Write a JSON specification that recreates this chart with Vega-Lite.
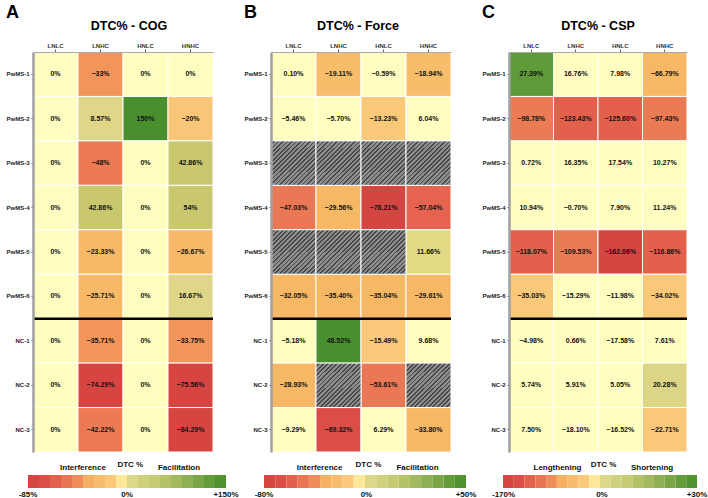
{
  "$schema": "https://vega.github.io/schema/vega-lite/v6.json",
  "background": "white",
  "padding": {"left": 5, "top": 3, "right": 0, "bottom": 0},
  "spacing": 4,
  "resolve": {"scale": {"x": "independent", "y": "independent", "color": "independent"}},
  "config": {
    "font": "Liberation Sans",
    "view": {"stroke": null},
    "title": {"font": "Liberation Sans", "color": "#000"},
    "axisTop": {"labelFontSize": 6, "labelFontWeight": "bold", "labelColor": "#333", "tickSize": 3, "tickColor": "#666", "domainColor": "#aaa", "domainWidth": 1, "labelPadding": 1, "labelAngle": 0},
    "axisLeft": {"labelFontSize": 6, "labelFontWeight": "bold", "labelColor": "#222", "tickSize": 2, "tickColor": "#555", "domainColor": "#a0a0a0", "domainWidth": 2.5, "labelPadding": 2, "minExtent": 26, "maxExtent": 26}
  },
  "datasets": {
    "cog": [
      {"row": "PwMS-1", "col": "LNLC", "v": 0}, {"row": "PwMS-1", "col": "LNHC", "v": -33}, {"row": "PwMS-1", "col": "HNLC", "v": 0}, {"row": "PwMS-1", "col": "HNHC", "v": 0},
      {"row": "PwMS-2", "col": "LNLC", "v": 0}, {"row": "PwMS-2", "col": "LNHC", "v": 8.57}, {"row": "PwMS-2", "col": "HNLC", "v": 150}, {"row": "PwMS-2", "col": "HNHC", "v": -20},
      {"row": "PwMS-3", "col": "LNLC", "v": 0}, {"row": "PwMS-3", "col": "LNHC", "v": -48}, {"row": "PwMS-3", "col": "HNLC", "v": 0}, {"row": "PwMS-3", "col": "HNHC", "v": 42.86},
      {"row": "PwMS-4", "col": "LNLC", "v": 0}, {"row": "PwMS-4", "col": "LNHC", "v": 42.86}, {"row": "PwMS-4", "col": "HNLC", "v": 0}, {"row": "PwMS-4", "col": "HNHC", "v": 54},
      {"row": "PwMS-5", "col": "LNLC", "v": 0}, {"row": "PwMS-5", "col": "LNHC", "v": -23.33}, {"row": "PwMS-5", "col": "HNLC", "v": 0}, {"row": "PwMS-5", "col": "HNHC", "v": -26.67},
      {"row": "PwMS-6", "col": "LNLC", "v": 0}, {"row": "PwMS-6", "col": "LNHC", "v": -25.71}, {"row": "PwMS-6", "col": "HNLC", "v": 0}, {"row": "PwMS-6", "col": "HNHC", "v": 16.67},
      {"row": "NC-1", "col": "LNLC", "v": 0}, {"row": "NC-1", "col": "LNHC", "v": -35.71}, {"row": "NC-1", "col": "HNLC", "v": 0}, {"row": "NC-1", "col": "HNHC", "v": -33.75},
      {"row": "NC-2", "col": "LNLC", "v": 0}, {"row": "NC-2", "col": "LNHC", "v": -74.29}, {"row": "NC-2", "col": "HNLC", "v": 0}, {"row": "NC-2", "col": "HNHC", "v": -75.56},
      {"row": "NC-3", "col": "LNLC", "v": 0}, {"row": "NC-3", "col": "LNHC", "v": -42.22}, {"row": "NC-3", "col": "HNLC", "v": 0}, {"row": "NC-3", "col": "HNHC", "v": -84.29}
    ],
    "force": [
      {"row": "PwMS-1", "col": "LNLC", "v": 0.10}, {"row": "PwMS-1", "col": "LNHC", "v": -19.11}, {"row": "PwMS-1", "col": "HNLC", "v": -0.59}, {"row": "PwMS-1", "col": "HNHC", "v": -18.94},
      {"row": "PwMS-2", "col": "LNLC", "v": -5.46}, {"row": "PwMS-2", "col": "LNHC", "v": -5.70}, {"row": "PwMS-2", "col": "HNLC", "v": -13.23}, {"row": "PwMS-2", "col": "HNHC", "v": 6.04},
      {"row": "PwMS-3", "col": "LNLC", "v": null}, {"row": "PwMS-3", "col": "LNHC", "v": null}, {"row": "PwMS-3", "col": "HNLC", "v": null}, {"row": "PwMS-3", "col": "HNHC", "v": null},
      {"row": "PwMS-4", "col": "LNLC", "v": -47.03}, {"row": "PwMS-4", "col": "LNHC", "v": -29.56}, {"row": "PwMS-4", "col": "HNLC", "v": -78.21}, {"row": "PwMS-4", "col": "HNHC", "v": -57.04},
      {"row": "PwMS-5", "col": "LNLC", "v": null}, {"row": "PwMS-5", "col": "LNHC", "v": null}, {"row": "PwMS-5", "col": "HNLC", "v": null}, {"row": "PwMS-5", "col": "HNHC", "v": 11.66},
      {"row": "PwMS-6", "col": "LNLC", "v": -32.05}, {"row": "PwMS-6", "col": "LNHC", "v": -35.40}, {"row": "PwMS-6", "col": "HNLC", "v": -35.04}, {"row": "PwMS-6", "col": "HNHC", "v": -29.61},
      {"row": "NC-1", "col": "LNLC", "v": -5.18}, {"row": "NC-1", "col": "LNHC", "v": 48.52}, {"row": "NC-1", "col": "HNLC", "v": -15.49}, {"row": "NC-1", "col": "HNHC", "v": 9.68},
      {"row": "NC-2", "col": "LNLC", "v": -28.93}, {"row": "NC-2", "col": "LNHC", "v": null}, {"row": "NC-2", "col": "HNLC", "v": -53.61}, {"row": "NC-2", "col": "HNHC", "v": null},
      {"row": "NC-3", "col": "LNLC", "v": -9.29}, {"row": "NC-3", "col": "LNHC", "v": -69.32}, {"row": "NC-3", "col": "HNLC", "v": 6.29}, {"row": "NC-3", "col": "HNHC", "v": -33.80}
    ],
    "csp": [
      {"row": "PwMS-1", "col": "LNLC", "v": 27.39}, {"row": "PwMS-1", "col": "LNHC", "v": 16.76}, {"row": "PwMS-1", "col": "HNLC", "v": 7.98}, {"row": "PwMS-1", "col": "HNHC", "v": -66.79},
      {"row": "PwMS-2", "col": "LNLC", "v": -98.78}, {"row": "PwMS-2", "col": "LNHC", "v": -123.43}, {"row": "PwMS-2", "col": "HNLC", "v": -125.60}, {"row": "PwMS-2", "col": "HNHC", "v": -97.43},
      {"row": "PwMS-3", "col": "LNLC", "v": 0.72}, {"row": "PwMS-3", "col": "LNHC", "v": 16.35}, {"row": "PwMS-3", "col": "HNLC", "v": 17.54}, {"row": "PwMS-3", "col": "HNHC", "v": 10.27},
      {"row": "PwMS-4", "col": "LNLC", "v": 10.94}, {"row": "PwMS-4", "col": "LNHC", "v": -0.70}, {"row": "PwMS-4", "col": "HNLC", "v": 7.90}, {"row": "PwMS-4", "col": "HNHC", "v": 11.24},
      {"row": "PwMS-5", "col": "LNLC", "v": -118.07}, {"row": "PwMS-5", "col": "LNHC", "v": -109.53}, {"row": "PwMS-5", "col": "HNLC", "v": -162.06}, {"row": "PwMS-5", "col": "HNHC", "v": -116.86},
      {"row": "PwMS-6", "col": "LNLC", "v": -35.03}, {"row": "PwMS-6", "col": "LNHC", "v": -15.29}, {"row": "PwMS-6", "col": "HNLC", "v": -11.98}, {"row": "PwMS-6", "col": "HNHC", "v": -34.02},
      {"row": "NC-1", "col": "LNLC", "v": -4.98}, {"row": "NC-1", "col": "LNHC", "v": 0.66}, {"row": "NC-1", "col": "HNLC", "v": -17.58}, {"row": "NC-1", "col": "HNHC", "v": 7.61},
      {"row": "NC-2", "col": "LNLC", "v": 5.74}, {"row": "NC-2", "col": "LNHC", "v": 5.91}, {"row": "NC-2", "col": "HNLC", "v": 5.05}, {"row": "NC-2", "col": "HNHC", "v": 20.28},
      {"row": "NC-3", "col": "LNLC", "v": 7.50}, {"row": "NC-3", "col": "LNHC", "v": -18.10}, {"row": "NC-3", "col": "HNLC", "v": -16.52}, {"row": "NC-3", "col": "HNHC", "v": -22.71}
    ],
    "legA": [
      {"k": 0, "lo": -85, "hi": -75.56}, {"k": 1, "lo": -75.56, "hi": -66.11}, {"k": 2, "lo": -66.11, "hi": -56.67}, {"k": 3, "lo": -56.67, "hi": -47.22}, {"k": 4, "lo": -47.22, "hi": -37.78}, {"k": 5, "lo": -37.78, "hi": -28.33}, {"k": 6, "lo": -28.33, "hi": -18.89}, {"k": 7, "lo": -18.89, "hi": -9.44}, {"k": 8, "lo": -9.44, "hi": 0},
      {"k": 9, "lo": 0, "hi": 16.67}, {"k": 10, "lo": 16.67, "hi": 33.33}, {"k": 11, "lo": 33.33, "hi": 50}, {"k": 12, "lo": 50, "hi": 66.67}, {"k": 13, "lo": 66.67, "hi": 83.33}, {"k": 14, "lo": 83.33, "hi": 100}, {"k": 15, "lo": 100, "hi": 116.67}, {"k": 16, "lo": 116.67, "hi": 133.33}, {"k": 17, "lo": 133.33, "hi": 150}
    ],
    "legB": [
      {"k": 0, "lo": -80, "hi": -71.11}, {"k": 1, "lo": -71.11, "hi": -62.22}, {"k": 2, "lo": -62.22, "hi": -53.33}, {"k": 3, "lo": -53.33, "hi": -44.44}, {"k": 4, "lo": -44.44, "hi": -35.56}, {"k": 5, "lo": -35.56, "hi": -26.67}, {"k": 6, "lo": -26.67, "hi": -17.78}, {"k": 7, "lo": -17.78, "hi": -8.89}, {"k": 8, "lo": -8.89, "hi": 0},
      {"k": 9, "lo": 0, "hi": 5.56}, {"k": 10, "lo": 5.56, "hi": 11.11}, {"k": 11, "lo": 11.11, "hi": 16.67}, {"k": 12, "lo": 16.67, "hi": 22.22}, {"k": 13, "lo": 22.22, "hi": 27.78}, {"k": 14, "lo": 27.78, "hi": 33.33}, {"k": 15, "lo": 33.33, "hi": 38.89}, {"k": 16, "lo": 38.89, "hi": 44.44}, {"k": 17, "lo": 44.44, "hi": 50}
    ],
    "legC": [
      {"k": 0, "lo": -170, "hi": -151.11}, {"k": 1, "lo": -151.11, "hi": -132.22}, {"k": 2, "lo": -132.22, "hi": -113.33}, {"k": 3, "lo": -113.33, "hi": -94.44}, {"k": 4, "lo": -94.44, "hi": -75.56}, {"k": 5, "lo": -75.56, "hi": -56.67}, {"k": 6, "lo": -56.67, "hi": -37.78}, {"k": 7, "lo": -37.78, "hi": -18.89}, {"k": 8, "lo": -18.89, "hi": 0},
      {"k": 9, "lo": 0, "hi": 3.33}, {"k": 10, "lo": 3.33, "hi": 6.67}, {"k": 11, "lo": 6.67, "hi": 10}, {"k": 12, "lo": 10, "hi": 13.33}, {"k": 13, "lo": 13.33, "hi": 16.67}, {"k": 14, "lo": 16.67, "hi": 20}, {"k": 15, "lo": 20, "hi": 23.33}, {"k": 16, "lo": 23.33, "hi": 26.67}, {"k": 17, "lo": 26.67, "hi": 30}
    ]
  },
  "hconcat": [
    {
      "title": {"text": "A", "anchor": "start", "frame": "bounds", "fontSize": 18, "fontWeight": "bold", "offset": -2},
      "bounds": "flush",
      "spacing": 23,
      "resolve": {"scale": {"x": "independent", "y": "independent", "color": "independent"}},
      "vconcat": [
        {
          "width": 180, "height": 400,
          "title": {"text": "DTC% - COG", "fontSize": 12.5, "fontWeight": "bold", "offset": 10, "dx": 6},
          "data": {"name": "cog"},
          "encoding": {
            "y": {"field": "row", "type": "nominal", "scale": {"domain": ["PwMS-1", "PwMS-2", "PwMS-3", "PwMS-4", "PwMS-5", "PwMS-6", "NC-1", "NC-2", "NC-3"], "paddingInner": 0, "paddingOuter": 0}, "axis": {"title": null}}
          },
          "layer": [
            {
              "mark": {"type": "rect", "stroke": "white", "strokeWidth": 1},
              "encoding": {
                "x": {"field": "col", "type": "nominal", "scale": {"domain": ["LNLC", "LNHC", "HNLC", "HNHC"], "paddingInner": 0, "paddingOuter": 0}, "axis": {"orient": "top", "title": null}},
                "color": {"field": "v", "type": "quantitative", "legend": null,
                  "scale": {"type": "threshold", "domain": [-70, -40, -30, -22, -10, 5, 30, 100],
                    "range": ["#d64541", "#ec7b53", "#f1955a", "#f7b967", "#f9c576", "#fffdc0", "#e0d688", "#c9c86e", "#4a8f2e"]}}
              }
            },
            {
              "transform": [{"calculate": "format(datum.v, '.2~f') + '%'", "as": "lbl"}],
              "mark": {"type": "text", "fontSize": 7, "fontWeight": "bold", "color": "#111"},
              "encoding": {
                "x": {"field": "col", "type": "nominal", "axis": {"orient": "top", "title": null}},
                "text": {"field": "lbl"}
              }
            },
            {
              "data": {"values": [{"row": "NC-1"}]},
              "mark": {"type": "rule", "color": "#000", "strokeWidth": 2.5},
              "encoding": {
                "y": {"field": "row", "type": "nominal", "bandPosition": 0, "axis": {"title": null}}
              }
            }
          ]
        },
        {
          "width": 180, "height": 13,
          "layer": [
            {
              "data": {"name": "legA"},
              "mark": {"type": "rect"},
              "encoding": {
                "x": {"field": "lo", "type": "quantitative", "axis": null, "scale": {"domain": [-85, 0, 150], "range": [-5, 94, 193], "nice": false, "zero": false}},
                "x2": {"field": "hi"},
                "color": {"field": "k", "type": "ordinal", "legend": null,
                  "scale": {"domain": [0, 1, 2, 3, 4, 5, 6, 7, 8, 9, 10, 11, 12, 13, 14, 15, 16, 17],
                    "range": ["#d64541", "#dc4d47", "#e3604c", "#ea7552", "#f08d5b", "#f6b064", "#f8bc6c", "#fbc97a", "#fde89a", "#dcd888", "#cfd17c", "#c5cb72", "#b5c268", "#a2b95d", "#8fb052", "#7aa646", "#659c3a", "#4f922f"]}}
              }
            },
            {
              "data": {"values": [{"v": -85, "t": "-85%"}, {"v": 0, "t": "0%"}, {"v": 150, "t": "+150%"}]},
              "mark": {"type": "text", "fontSize": 8, "fontWeight": "bold", "color": "#111", "baseline": "middle", "dy": 13.5},
              "encoding": {"x": {"field": "v", "type": "quantitative"}, "text": {"field": "t"}}
            },
            {
              "data": {"values": [{"v": -37.8, "t": "Interference"}, {"v": 78.8, "t": "Facilitation"}]},
              "mark": {"type": "text", "fontSize": 8, "fontWeight": "bold", "color": "#111", "baseline": "middle", "dy": -13.5},
              "encoding": {"x": {"field": "v", "type": "quantitative"}, "text": {"field": "t"}}
            },
            {
              "data": {"values": [{"v": 5, "t": "DTC %"}]},
              "mark": {"type": "text", "fontSize": 8, "fontWeight": "bold", "color": "#111", "baseline": "middle", "dy": -16.5},
              "encoding": {"x": {"field": "v", "type": "quantitative"}, "text": {"field": "t"}}
            }
          ]
        }
      ]
    },
    {
      "title": {"text": "B", "anchor": "start", "frame": "bounds", "fontSize": 18, "fontWeight": "bold", "offset": -2},
      "bounds": "flush",
      "spacing": 23,
      "resolve": {"scale": {"x": "independent", "y": "independent", "color": "independent"}},
      "vconcat": [
        {
          "width": 180, "height": 400,
          "title": {"text": "DTC% - Force", "fontSize": 12.5, "fontWeight": "bold", "offset": 10, "dx": -3},
          "data": {"name": "force"},
          "encoding": {
            "y": {"field": "row", "type": "nominal", "scale": {"domain": ["PwMS-1", "PwMS-2", "PwMS-3", "PwMS-4", "PwMS-5", "PwMS-6", "NC-1", "NC-2", "NC-3"], "paddingInner": 0, "paddingOuter": 0}, "axis": {"title": null}}
          },
          "layer": [
            {
              "transform": [{"filter": "datum.v != null"}],
              "mark": {"type": "rect", "stroke": "white", "strokeWidth": 1},
              "encoding": {
                "x": {"field": "col", "type": "nominal", "scale": {"domain": ["LNLC", "LNHC", "HNLC", "HNHC"], "paddingInner": 0, "paddingOuter": 0}, "axis": {"orient": "top", "title": null}},
                "color": {"field": "v", "type": "quantitative", "legend": null,
                  "scale": {"type": "threshold", "domain": [-75, -60, -55, -40, -25, -17, -10, 10, 30],
                    "range": ["#d44641", "#dd4d47", "#e5634f", "#eb7854", "#f6b865", "#f7bd6b", "#f9c878", "#fffdc0", "#e2d985", "#4a8f2e"]}}
              }
            },
            {
              "transform": [{"filter": "datum.v == null"}],
              "mark": {"type": "rect", "stroke": "white", "strokeWidth": 1,
                "fill": {"gradient": "linear", "x1": 0, "y1": 0, "x2": 1, "y2": 1, "stops": [
                  {"offset": 0, "color": "#8e8e8e"}, {"offset": 0.03, "color": "#8e8e8e"}, {"offset": 0.03, "color": "#474747"}, {"offset": 0.05, "color": "#474747"},
                  {"offset": 0.05, "color": "#8e8e8e"}, {"offset": 0.08, "color": "#8e8e8e"}, {"offset": 0.08, "color": "#474747"}, {"offset": 0.1, "color": "#474747"},
                  {"offset": 0.1, "color": "#8e8e8e"}, {"offset": 0.13, "color": "#8e8e8e"}, {"offset": 0.13, "color": "#474747"}, {"offset": 0.15, "color": "#474747"},
                  {"offset": 0.15, "color": "#8e8e8e"}, {"offset": 0.18, "color": "#8e8e8e"}, {"offset": 0.18, "color": "#474747"}, {"offset": 0.2, "color": "#474747"},
                  {"offset": 0.2, "color": "#8e8e8e"}, {"offset": 0.23, "color": "#8e8e8e"}, {"offset": 0.23, "color": "#474747"}, {"offset": 0.25, "color": "#474747"},
                  {"offset": 0.25, "color": "#8e8e8e"}, {"offset": 0.28, "color": "#8e8e8e"}, {"offset": 0.28, "color": "#474747"}, {"offset": 0.3, "color": "#474747"},
                  {"offset": 0.3, "color": "#8e8e8e"}, {"offset": 0.33, "color": "#8e8e8e"}, {"offset": 0.33, "color": "#474747"}, {"offset": 0.35, "color": "#474747"},
                  {"offset": 0.35, "color": "#8e8e8e"}, {"offset": 0.38, "color": "#8e8e8e"}, {"offset": 0.38, "color": "#474747"}, {"offset": 0.4, "color": "#474747"},
                  {"offset": 0.4, "color": "#8e8e8e"}, {"offset": 0.43, "color": "#8e8e8e"}, {"offset": 0.43, "color": "#474747"}, {"offset": 0.45, "color": "#474747"},
                  {"offset": 0.45, "color": "#8e8e8e"}, {"offset": 0.48, "color": "#8e8e8e"}, {"offset": 0.48, "color": "#474747"}, {"offset": 0.5, "color": "#474747"},
                  {"offset": 0.5, "color": "#8e8e8e"}, {"offset": 0.53, "color": "#8e8e8e"}, {"offset": 0.53, "color": "#474747"}, {"offset": 0.55, "color": "#474747"},
                  {"offset": 0.55, "color": "#8e8e8e"}, {"offset": 0.58, "color": "#8e8e8e"}, {"offset": 0.58, "color": "#474747"}, {"offset": 0.6, "color": "#474747"},
                  {"offset": 0.6, "color": "#8e8e8e"}, {"offset": 0.63, "color": "#8e8e8e"}, {"offset": 0.63, "color": "#474747"}, {"offset": 0.65, "color": "#474747"},
                  {"offset": 0.65, "color": "#8e8e8e"}, {"offset": 0.68, "color": "#8e8e8e"}, {"offset": 0.68, "color": "#474747"}, {"offset": 0.7, "color": "#474747"},
                  {"offset": 0.7, "color": "#8e8e8e"}, {"offset": 0.73, "color": "#8e8e8e"}, {"offset": 0.73, "color": "#474747"}, {"offset": 0.75, "color": "#474747"},
                  {"offset": 0.75, "color": "#8e8e8e"}, {"offset": 0.78, "color": "#8e8e8e"}, {"offset": 0.78, "color": "#474747"}, {"offset": 0.8, "color": "#474747"},
                  {"offset": 0.8, "color": "#8e8e8e"}, {"offset": 0.83, "color": "#8e8e8e"}, {"offset": 0.83, "color": "#474747"}, {"offset": 0.85, "color": "#474747"},
                  {"offset": 0.85, "color": "#8e8e8e"}, {"offset": 0.88, "color": "#8e8e8e"}, {"offset": 0.88, "color": "#474747"}, {"offset": 0.9, "color": "#474747"},
                  {"offset": 0.9, "color": "#8e8e8e"}, {"offset": 0.93, "color": "#8e8e8e"}, {"offset": 0.93, "color": "#474747"}, {"offset": 0.95, "color": "#474747"},
                  {"offset": 0.95, "color": "#8e8e8e"}, {"offset": 0.98, "color": "#8e8e8e"}, {"offset": 0.98, "color": "#474747"}, {"offset": 1, "color": "#474747"}
                ]}},
              "encoding": {
                "x": {"field": "col", "type": "nominal", "axis": {"orient": "top", "title": null}}
              }
            },
            {
              "transform": [{"filter": "datum.v != null"}, {"calculate": "format(datum.v, '.2f') + '%'", "as": "lbl"}],
              "mark": {"type": "text", "fontSize": 7, "fontWeight": "bold", "color": "#111"},
              "encoding": {
                "x": {"field": "col", "type": "nominal", "axis": {"orient": "top", "title": null}},
                "text": {"field": "lbl"}
              }
            },
            {
              "data": {"values": [{"row": "NC-1"}]},
              "mark": {"type": "rule", "color": "#000", "strokeWidth": 2.5},
              "encoding": {
                "y": {"field": "row", "type": "nominal", "bandPosition": 0, "axis": {"title": null}}
              }
            }
          ]
        },
        {
          "width": 180, "height": 13,
          "layer": [
            {
              "data": {"name": "legB"},
              "mark": {"type": "rect"},
              "encoding": {
                "x": {"field": "lo", "type": "quantitative", "axis": null, "scale": {"domain": [-80, 0, 50], "range": [-7, 94, 195], "nice": false, "zero": false}},
                "x2": {"field": "hi"},
                "color": {"field": "k", "type": "ordinal", "legend": null,
                  "scale": {"domain": [0, 1, 2, 3, 4, 5, 6, 7, 8, 9, 10, 11, 12, 13, 14, 15, 16, 17],
                    "range": ["#d64541", "#dc4d47", "#e3604c", "#ea7552", "#f08d5b", "#f6b064", "#f8bc6c", "#fbc97a", "#fde89a", "#dcd888", "#cfd17c", "#c5cb72", "#b5c268", "#a2b95d", "#8fb052", "#7aa646", "#659c3a", "#4f922f"]}}
              }
            },
            {
              "data": {"values": [{"v": -80, "t": "-80%"}, {"v": 0.7, "t": "0%"}, {"v": 50, "t": "+50%"}]},
              "mark": {"type": "text", "fontSize": 8, "fontWeight": "bold", "color": "#111", "baseline": "middle", "dy": 13.5},
              "encoding": {"x": {"field": "v", "type": "quantitative"}, "text": {"field": "t"}}
            },
            {
              "data": {"values": [{"v": -36, "t": "Interference"}, {"v": 26, "t": "Facilitation"}]},
              "mark": {"type": "text", "fontSize": 8, "fontWeight": "bold", "color": "#111", "baseline": "middle", "dy": -13.5},
              "encoding": {"x": {"field": "v", "type": "quantitative"}, "text": {"field": "t"}}
            },
            {
              "data": {"values": [{"v": 1.7, "t": "DTC %"}]},
              "mark": {"type": "text", "fontSize": 8, "fontWeight": "bold", "color": "#111", "baseline": "middle", "dy": -16.5},
              "encoding": {"x": {"field": "v", "type": "quantitative"}, "text": {"field": "t"}}
            }
          ]
        }
      ]
    },
    {
      "title": {"text": "C", "anchor": "start", "frame": "bounds", "fontSize": 18, "fontWeight": "bold", "offset": -2},
      "bounds": "flush",
      "spacing": 23,
      "resolve": {"scale": {"x": "independent", "y": "independent", "color": "independent"}},
      "vconcat": [
        {
          "width": 178, "height": 400,
          "title": {"text": "DTC% - CSP", "fontSize": 12.5, "fontWeight": "bold", "offset": 10},
          "data": {"name": "csp"},
          "encoding": {
            "y": {"field": "row", "type": "nominal", "scale": {"domain": ["PwMS-1", "PwMS-2", "PwMS-3", "PwMS-4", "PwMS-5", "PwMS-6", "NC-1", "NC-2", "NC-3"], "paddingInner": 0, "paddingOuter": 0}, "axis": {"title": null}}
          },
          "layer": [
            {
              "mark": {"type": "rect", "stroke": "white", "strokeWidth": 1},
              "encoding": {
                "x": {"field": "col", "type": "nominal", "scale": {"domain": ["LNLC", "LNHC", "HNLC", "HNHC"], "paddingInner": 0, "paddingOuter": 0}, "axis": {"orient": "top", "title": null}},
                "color": {"field": "v", "type": "quantitative", "legend": null,
                  "scale": {"type": "threshold", "domain": [-150, -110, -90, -50, -20, 19, 25],
                    "range": ["#d44641", "#e3604c", "#eb7b54", "#f6b865", "#f9c878", "#fffdc0", "#dcd585", "#5e9a38"]}}
              }
            },
            {
              "transform": [{"calculate": "format(datum.v, '.2f') + '%'", "as": "lbl"}],
              "mark": {"type": "text", "fontSize": 7, "fontWeight": "bold", "color": "#111"},
              "encoding": {
                "x": {"field": "col", "type": "nominal", "axis": {"orient": "top", "title": null}},
                "text": {"field": "lbl"}
              }
            },
            {
              "data": {"values": [{"row": "NC-1"}]},
              "mark": {"type": "rule", "color": "#000", "strokeWidth": 2.5},
              "encoding": {
                "y": {"field": "row", "type": "nominal", "bandPosition": 0, "axis": {"title": null}}
              }
            }
          ]
        },
        {
          "width": 178, "height": 13,
          "layer": [
            {
              "data": {"name": "legC"},
              "mark": {"type": "rect"},
              "encoding": {
                "x": {"field": "lo", "type": "quantitative", "axis": null, "scale": {"domain": [-170, 0, 30], "range": [-6, 91, 188], "nice": false, "zero": false}},
                "x2": {"field": "hi"},
                "color": {"field": "k", "type": "ordinal", "legend": null,
                  "scale": {"domain": [0, 1, 2, 3, 4, 5, 6, 7, 8, 9, 10, 11, 12, 13, 14, 15, 16, 17],
                    "range": ["#d64541", "#dc4d47", "#e3604c", "#ea7552", "#f08d5b", "#f6b064", "#f8bc6c", "#fbc97a", "#fde89a", "#dcd888", "#cfd17c", "#c5cb72", "#b5c268", "#a2b95d", "#8fb052", "#7aa646", "#659c3a", "#4f922f"]}}
              }
            },
            {
              "data": {"values": [{"v": -169, "t": "-170%"}, {"v": 0.6, "t": "0%"}, {"v": 30, "t": "+30%"}]},
              "mark": {"type": "text", "fontSize": 8, "fontWeight": "bold", "color": "#111", "baseline": "middle", "dy": 13.5},
              "encoding": {"x": {"field": "v", "type": "quantitative"}, "text": {"field": "t"}}
            },
            {
              "data": {"values": [{"v": -74.5, "t": "Lengthening"}, {"v": 16.1, "t": "Shortening"}]},
              "mark": {"type": "text", "fontSize": 8, "fontWeight": "bold", "color": "#111", "baseline": "middle", "dy": -13.5},
              "encoding": {"x": {"field": "v", "type": "quantitative"}, "text": {"field": "t"}}
            },
            {
              "data": {"values": [{"v": 1.1, "t": "DTC %"}]},
              "mark": {"type": "text", "fontSize": 8, "fontWeight": "bold", "color": "#111", "baseline": "middle", "dy": -16.5},
              "encoding": {"x": {"field": "v", "type": "quantitative"}, "text": {"field": "t"}}
            }
          ]
        }
      ]
    }
  ]
}
